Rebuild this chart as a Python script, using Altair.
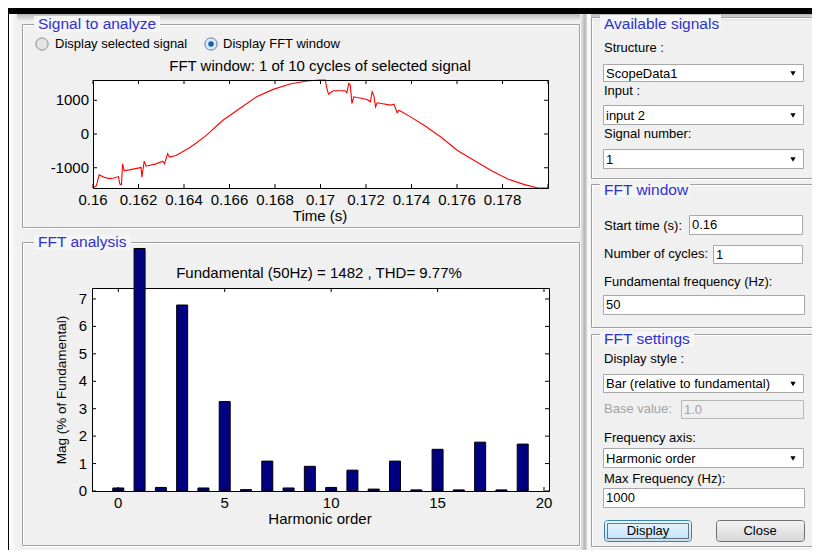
import altair as alt
import pandas as pd

# ---------------- data: signal in the FFT window ----------------
sig_t = [0.16, 0.16015, 0.16027, 0.16049, 0.16071, 0.16093, 0.16112, 0.16118, 0.16125, 0.16130, 0.16137,
         0.16159, 0.16203, 0.16211, 0.16215, 0.16225, 0.16233, 0.16277, 0.16306, 0.16314, 0.16328, 0.16336,
         0.16365, 0.16424, 0.16454, 0.16498, 0.16571, 0.16645, 0.16719, 0.16792, 0.16866, 0.16940, 0.16999,
         0.17021, 0.17028, 0.17035, 0.17057, 0.17109, 0.17116, 0.17124, 0.17131, 0.17138, 0.17146, 0.17205,
         0.17219, 0.17227, 0.17234, 0.17242, 0.17249, 0.17308, 0.17323, 0.17330, 0.17337, 0.17345, 0.17396,
         0.17455, 0.17529, 0.17602, 0.17676, 0.17750, 0.17823, 0.17897, 0.17956, 0.18]
sig_v = [-1600, -1530, -1212, -1282, -1322, -1302, -1262, -1481, -1500, -885, -1083,
         -1063, -1004, -984, -1282, -805, -954, -885, -805, -885, -586, -686,
         -636, -407, -268, -40, 407, 755, 1103, 1322, 1481, 1570, 1600,
         1600, 1352, 1183, 1282, 1282, 1222, 1500, 1451, 904, 1103, 1024,
         954, 1252, 1153, 805, 924, 855, 884, 755, 626, 706, 507,
         258, -89, -487, -785, -1083, -1332, -1500, -1600, -1600]
sig_xticks = [0.16, 0.162, 0.164, 0.166, 0.168, 0.17, 0.172, 0.174, 0.176, 0.178, 0.18]
sig_xlab_vals = [0.16, 0.162, 0.164, 0.166, 0.168, 0.17, 0.172, 0.174, 0.176, 0.178]
sig_xlabels = ["0.16", "0.162", "0.164", "0.166", "0.168", "0.17", "0.172", "0.174", "0.176", "0.178"]
sig_yticks = [-1000, 0, 1000]
sig_ylabels = ["-1000", "0", "1000"]

# ---------------- data: harmonic spectrum ----------------
harm = list(range(20))
mag = [0.11, 100, 0.13, 6.78, 0.11, 3.26, 0.05, 1.09, 0.11, 0.90,
       0.13, 0.76, 0.07, 1.09, 0.04, 1.52, 0.04, 1.78, 0.04, 1.71]
fft_xticks = [0, 5, 10, 15, 20]
fft_xlabels = ["0", "5", "10", "15", "20"]
fft_yticks = [0, 1, 2, 3, 4, 5, 6, 7]
fft_ylabels = ["0", "1", "2", "3", "4", "5", "6", "7"]

# ---------------- layout helpers (image pixel coords) ----------------
OX, OY = 8, 8
W, H = 804, 542
GUI = "Liberation Sans"
PF = "Liberation Sans"
BLUE = "#3030d0"
dummy = alt.Data(values=[{"k": 0}])


def X(v):
    return alt.value(v - OX)


def Y(v):
    return alt.value(v - OY)


def box(x0, y0, x1, y1, fill="transparent", stroke=None, sw=1, **kw):
    mk = dict(fill=fill, strokeWidth=sw)
    if stroke is not None:
        mk["stroke"] = stroke
    mk.update(kw)
    return alt.Chart(dummy).mark_rect(**mk).encode(x=X(x0), y=Y(y0), x2=X(x1), y2=Y(y1))


def txt(s, x, y, size=13, color="#000000", align="left", font=GUI, **kw):
    return alt.Chart(dummy).mark_text(text=s, align=align, baseline="middle", fontSize=size,
                                      font=font, color=color, **kw).encode(x=X(x), y=Y(y))


def dot(x, y, size, shape="circle", fill="#000000", stroke=None, sw=1):
    mk = dict(shape=shape, size=size, filled=True, fill=fill, opacity=1)
    if stroke is not None:
        mk["stroke"] = stroke
        mk["strokeWidth"] = sw
    return alt.Chart(dummy).mark_point(**mk).encode(x=X(x), y=Y(y))


def etched(x0, y0, x1, y1):
    return [box(x0 + 1.5, y0 + 1.5, x1 + 1.5, y1 + 1.5, stroke="#ffffff"),
            box(x0 + 0.5, y0 + 0.5, x1 + 0.5, y1 + 0.5, stroke="#a0a0a0")]


def vgrad(top, bottom):
    return alt.Gradient(gradient="linear", stops=[alt.GradientStop(color=top, offset=0),
                                                  alt.GradientStop(color=bottom, offset=1)],
                        x1=0, x2=0, y1=0, y2=1)


def hgrad(stops):
    return alt.Gradient(gradient="linear",
                        stops=[alt.GradientStop(color=c, offset=o) for o, c in stops],
                        x1=0, x2=1, y1=0, y2=0)


layers = []
# window
layers.append(box(9, 14, 820, 550, fill="#f0f0f0"))
layers.append(box(9, 14, 820, 21, fill=vgrad("#b8b8b8", "#f0f0f0")))
layers.append(box(9, 14, 17, 550, fill=hgrad([(0, "#ffffff"), (1, "#f0f0f0")])))
layers.append(box(580, 14, 591, 550, fill=hgrad([(0, "#f0f0f0"), (0.45, "#b4b4b4"), (0.75, "#ffffff"), (1, "#f0f0f0")])))

# panels
for p in [(22, 24, 579, 227), (22, 242, 579, 545), (591, 17, 816, 178), (591, 184, 816, 327), (591, 334, 816, 546)]:
    layers += etched(*p)

# panel titles
layers.append(box(34, 16, 160, 32, fill="#f5f5f5"))
layers.append(txt("Signal to analyze", 38, 24, size=15.5, color=BLUE))
layers.append(box(34, 235, 131, 250, fill="#f5f5f5"))
layers.append(txt("FFT analysis", 38, 242, size=15.5, color=BLUE))
layers.append(box(600, 15, 721, 31, fill="#f5f5f5"))
layers.append(txt("Available signals", 604, 24, size=15.5, color=BLUE))
layers.append(box(600, 183, 690, 197, fill="#f5f5f5"))
layers.append(txt("FFT window", 604, 190, size=15.5, color=BLUE))
layers.append(box(600, 332, 694, 347, fill="#f5f5f5"))
layers.append(txt("FFT settings", 604, 339, size=15.5, color=BLUE))

# radio buttons
layers.append(dot(42, 44, 150, fill="#e4e4e4", stroke="#8c8c8c"))
layers.append(txt("Display selected signal", 55, 44))
layers.append(dot(211, 44, 150, fill="#dbeaf7", stroke="#5a7fa8"))
layers.append(dot(211, 44, 30, fill="#1b5fa8"))
layers.append(txt("Display FFT window", 223, 44))

# right side controls
def dropdown(y0, y1, label):
    ym = (y0 + y1) / 2
    return [box(603.5, y0 + 0.5, 803.5, y1 + 0.5, fill="#ffffff", stroke="#a8a8a8"),
            txt(label, 606, ym + 1),
            dot(793, ym + 1, 28, shape="triangle-down", fill="#000000")]


def edit(x0, y0, x1, y1, label, fill="#ffffff", color="#000000", stroke="#a8a8a8"):
    return [box(x0 + 0.5, y0 + 0.5, x1 + 0.5, y1 + 0.5, fill=fill, stroke=stroke),
            txt(label, x0 + 3, (y0 + y1) / 2 + 0.5, color=color)]


layers.append(txt("Structure :", 604, 48))
layers += dropdown(64, 81, "ScopeData1")
layers.append(txt("Input :", 604, 91))
layers += dropdown(105, 124, "input 2")
layers.append(txt("Signal number:", 604, 133.5))
layers += dropdown(149, 168, "1")

layers.append(txt("Start time (s):", 604, 225.5))
layers += edit(689, 215, 802, 234, "0.16")
layers.append(txt("Number of cycles:", 604, 253.5))
layers += edit(713, 245, 802, 263, "1")
layers.append(txt("Fundamental frequency (Hz):", 604, 282))
layers += edit(603, 295, 804, 314, "50")

layers.append(txt("Display style :", 604, 359))
layers += dropdown(374, 392, "Bar (relative to fundamental)")
layers.append(txt("Base value:", 604, 409, color="#a3a3a3"))
layers += edit(681, 400, 803, 418, "1.0", fill="#f0f0f0", color="#a3a3a3", stroke="#b8b8b8")
layers.append(txt("Frequency axis:", 604, 438))
layers += dropdown(448, 467, "Harmonic order")
layers.append(txt("Max Frequency (Hz):", 604, 478.5))
layers += edit(603, 488, 804, 507, "1000")

# buttons
layers.append(box(604.5, 520.5, 691.5, 541.5, fill=vgrad("#eaf6fd", "#bfe0f7"), stroke="#3c7fb1", cornerRadius=3))
layers.append(box(607.5, 523.5, 688.5, 538.5, stroke="#000000", strokeDash=[1, 1]))
layers.append(txt("Display", 648, 531, align="center"))
layers.append(box(716.5, 520.5, 804.5, 541.5, fill=vgrad("#f4f4f4", "#d6d6d6"), stroke="#707070", cornerRadius=3))
layers.append(txt("Close", 760, 531, align="center"))

# ---------------- signal plot ----------------
SL, SR, ST, SB = 93, 548, 80, 188
sx = alt.Scale(domain=[0.16, 0.18], range=[SL - OX, SR - OX], nice=False, zero=False)
sy = alt.Scale(domain=[-1600, 1600], range=[SB - OY, ST - OY], nice=False, zero=False)
sig_df = pd.DataFrame({"t": sig_t, "v": sig_v})
sxt = pd.DataFrame({"t": sig_xticks})
sxl = pd.DataFrame({"t": sig_xlab_vals, "lab": sig_xlabels})
syt = pd.DataFrame({"v": sig_yticks, "lab": sig_ylabels})
sX = alt.X("t:Q", scale=sx, axis=None)
sY = alt.Y("v:Q", scale=sy, axis=None)

signal = alt.layer(
    box(SL, ST, SR, SB, fill="#ffffff"),
    alt.Chart(sig_df).mark_line(color="#ff0000", strokeWidth=1.1).encode(x=sX, y=sY),
    box(SL + 0.5, ST + 0.5, SR + 0.5, SB + 0.5, stroke="#000000"),
    alt.Chart(sxt).mark_rule(color="#000000").encode(x=sX, y=Y(SB), y2=Y(SB - 4)),
    alt.Chart(sxt).mark_rule(color="#000000").encode(x=sX, y=Y(ST), y2=Y(ST + 4)),
    alt.Chart(syt).mark_rule(color="#000000").encode(y=sY, x=X(SL), x2=X(SL + 4)),
    alt.Chart(syt).mark_rule(color="#000000").encode(y=sY, x=X(SR), x2=X(SR - 4)),
    alt.Chart(sxl).mark_text(fontSize=15, font=PF, baseline="middle", color="#000000").encode(
        x=sX, y=Y(200), text="lab:N"),
    alt.Chart(syt).mark_text(fontSize=15, font=PF, baseline="middle", align="right", color="#000000").encode(
        y=sY, x=X(89), text="lab:N"),
    txt("FFT window: 1 of 10 cycles of selected signal", 320, 66, size=15, font=PF, align="center"),
    txt("Time (s)", 320, 216, size=15, font=PF, align="center"),
)

# ---------------- FFT plot ----------------
FL, FR, FT, FB = 92, 549, 288, 491
fx = alt.Scale(domain=[-1, 20], range=[FL - OX, FR - OX], nice=False, zero=False)
fy = alt.Scale(domain=[0, 7.4], range=[FB - OY, FT - OY], nice=False, zero=False)
fft_df = pd.DataFrame({"h": harm, "mag": mag})
fxt = pd.DataFrame({"h": fft_xticks, "lab": fft_xlabels})
fyt = pd.DataFrame({"m": fft_yticks, "lab": fft_ylabels})
fX = alt.X("h:Q", scale=fx, axis=None)
fYm = alt.Y("m:Q", scale=fy, axis=None)

fft = alt.layer(
    box(FL, FT, FR, FB, fill="#ffffff"),
    box(FL + 0.5, FT + 0.5, FR + 0.5, FB + 0.5, stroke="#000000"),
    alt.Chart(fft_df).transform_calculate(mc="min(datum.mag, 8.84)").mark_bar(
        size=11, color="#000080", stroke="#000000", strokeWidth=1, clip=False, orient="vertical").encode(
        x=fX, y=alt.Y("mc:Q", scale=fy, axis=None), y2=alt.datum(0)),
    alt.Chart(fxt).mark_rule(color="#000000").encode(x=fX, y=Y(FB), y2=Y(FB - 4)),
    alt.Chart(fxt).mark_rule(color="#000000").encode(x=fX, y=Y(FT), y2=Y(FT + 4)),
    alt.Chart(fyt).mark_rule(color="#000000").encode(y=fYm, x=X(FL), x2=X(FL + 4)),
    alt.Chart(fyt).mark_rule(color="#000000").encode(y=fYm, x=X(FR), x2=X(FR - 4)),
    alt.Chart(fxt).mark_text(fontSize=15, font=PF, baseline="middle", color="#000000").encode(
        x=fX, y=Y(503), text="lab:N"),
    alt.Chart(fyt).mark_text(fontSize=15, font=PF, baseline="middle", align="right", color="#000000").encode(
        y=fYm, x=X(87), text="lab:N"),
    txt("Fundamental (50Hz) = 1482 , THD= 9.77%", 319, 273, size=15, font=PF, align="center"),
    txt("Harmonic order", 320, 519, size=15, font=PF, align="center"),
    txt("Mag (% of Fundamental)", 62, 390, size=13.5, font=PF, align="center", angle=270),
)

chart = alt.layer(*layers, signal, fft).resolve_scale(
    x="independent", y="independent"
).properties(
    width=W, height=H, padding=0, background="#000000",
    autosize=alt.AutoSizeParams(type="none"),
).configure_view(strokeWidth=0)

chart.save("out.html", embed_options={"renderer": "svg", "actions": False})
